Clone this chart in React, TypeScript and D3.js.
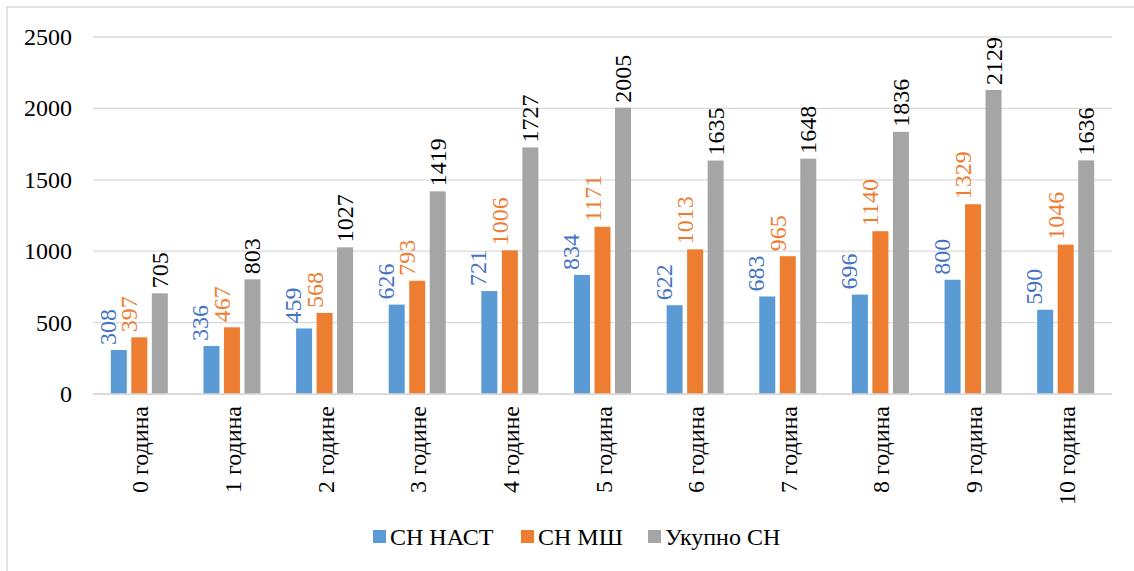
import React from "react";
import * as d3 from "d3";

const categories = ["0 година", "1 година", "2 године", "3 године", "4 године", "5 година", "6 година", "7 година", "8 година", "9 година", "10 година"];
const seriesNames = ["СН НАСТ", "СН МШ", "Укупно СН"];
const snNast = [308, 336, 459, 626, 721, 834, 622, 683, 696, 800, 590];
const snMsh = [397, 467, 568, 793, 1006, 1171, 1013, 965, 1140, 1329, 1046];
const ukupno = [705, 803, 1027, 1419, 1727, 2005, 1635, 1648, 1836, 2129, 1636];
const yTicks = [0, 500, 1000, 1500, 2000, 2500];

const seriesValues = [snNast, snMsh, ukupno];
const barColors = ["#5B9BD5", "#ED7D31", "#A5A5A5"];
const labelColors = ["#4472C4", "#ED7D31", "#000000"];
const labelShift = [-11, -10, 0];
const legendGaps = [0, 148, 275];

const W = 1134;
const H = 571;
const ts = { fontFamily: '"Times New Roman"', fontSize: "24px" };

export default function App() {
  const x0 = d3.scaleBand<string>().domain(categories).range([93, 1112]).padding(0);
  const x1 = d3.scaleBand<string>().domain(seriesNames).range([-28.5, 28.5]).paddingInner(0.22).paddingOuter(0);
  const y = d3.scaleLinear().domain([0, 2500]).range([394, 37]);

  return (
    <div style={{ position: "absolute", left: 0, top: 0, width: W, height: H }}>
      <svg width={W} height={H}>
        <rect x={0} y={0} width={W} height={H} fill="#fff" />
        <rect x={7} y={7} width={W + 20} height={H + 20} fill="none" stroke="#D9D9D9" strokeWidth={1.5} />
        {yTicks.map((t) => (
          <g key={t}>
            <line x1={93} x2={1112} y1={y(t)} y2={y(t)} stroke="#D9D9D9" strokeWidth={1.3} />
            <text x={72} y={y(t) + 8} textAnchor="end" style={ts} fill="#000">
              {t}
            </text>
          </g>
        ))}
        {categories.map((cat, ci) => {
          const cx = (x0(cat) as number) + x0.bandwidth() / 2;
          return (
            <g key={cat}>
              {seriesNames.map((s, si) => {
                const v = seriesValues[si][ci];
                const bx = cx + (x1(s) as number);
                const bw = x1.bandwidth();
                const top = y(v);
                const lx = bx + bw / 2 + labelShift[si] + 8;
                const ly = top - 5;
                return (
                  <g key={s}>
                    <rect x={bx} y={top} width={bw} height={y(0) - top} fill={barColors[si]} />
                    <text transform={`translate(${lx},${ly}) rotate(-90)`} textAnchor="start" style={ts} fill={labelColors[si]}>
                      {v}
                    </text>
                  </g>
                );
              })}
              <text transform={`translate(${cx + 9},406) rotate(-90)`} textAnchor="end" style={ts} fill="#000">
                {cat}
              </text>
            </g>
          );
        })}
        <line x1={93} x2={1112} y1={y(0)} y2={y(0)} stroke="#D9D9D9" strokeWidth={1.5} />
        {seriesNames.map((name, i) => (
          <g key={name} transform={`translate(${373 + legendGaps[i]},0)`}>
            <rect x={0} y={530} width={13} height={13} fill={barColors[i]} />
            <text x={17} y={545} style={ts} fill="#000">
              {name}
            </text>
          </g>
        ))}
      </svg>
    </div>
  );
}
